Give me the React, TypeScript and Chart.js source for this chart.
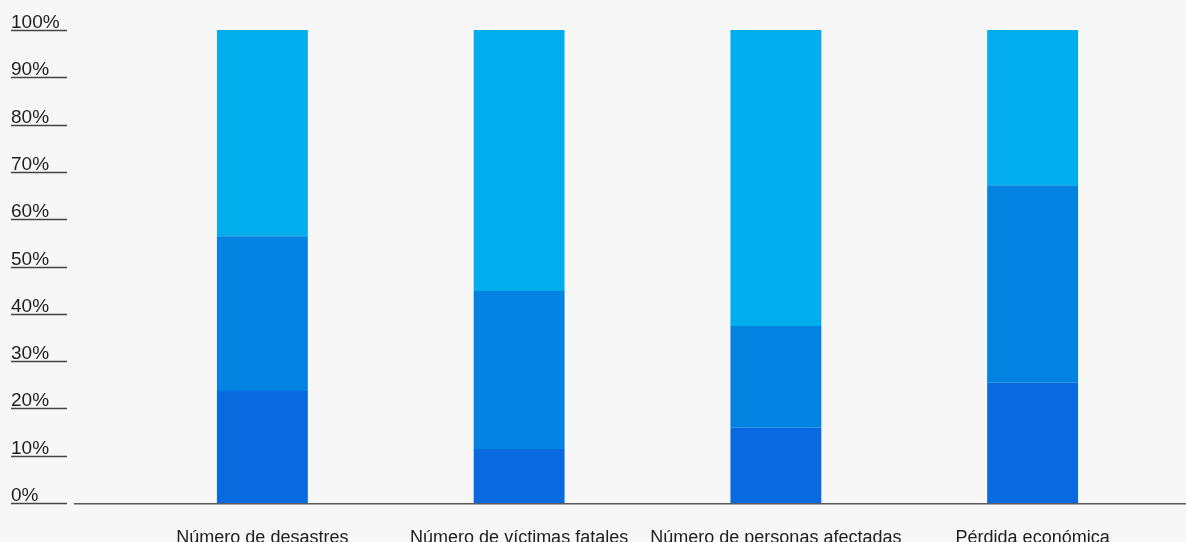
import React, { useEffect, useRef } from "react";
import { Chart, registerables } from "chart.js";

Chart.register(...registerables);

const categories = [
  "Número de desastres",
  "Número de víctimas fatales",
  "Número de personas afectadas",
  "Pérdida económica",
];
const seriesLow = [23.7, 11.4, 15.9, 25.4];
const seriesMid = [32.7, 33.4, 21.5, 41.8];
const seriesTop = [43.6, 55.2, 62.6, 32.8];
const yTickValues = [0, 10, 20, 30, 40, 50, 60, 70, 80, 90, 100];

const FONT = '"Liberation Sans", Arial, Helvetica, sans-serif';
const BG = "#f7f7f7";

const decorPlugin = {
  id: "decor",
  beforeDraw(chart: any) {
    const { ctx, width, height } = chart;
    ctx.save();
    ctx.fillStyle = BG;
    ctx.fillRect(0, 0, width, height);
    ctx.restore();
  },
  afterDraw(chart: any) {
    const { ctx, width, chartArea } = chart;
    const y = chart.scales.y;
    ctx.save();
    ctx.font = `19px ${FONT}`;
    ctx.fillStyle = "#1e1e1e";
    ctx.textAlign = "left";
    ctx.textBaseline = "alphabetic";
    ctx.strokeStyle = "#444444";
    ctx.lineWidth = 1.3;
    yTickValues.forEach((v) => {
      const py = Math.round(y.getPixelForValue(v));
      ctx.fillText(`${v}%`, 11, py - 2.5);
      ctx.beginPath();
      ctx.moveTo(11, py + 0.5);
      ctx.lineTo(67, py + 0.5);
      ctx.stroke();
    });
    ctx.strokeStyle = "#5a5a5a";
    ctx.lineWidth = 1.5;
    const by = Math.round(chartArea.bottom) + 0.75;
    ctx.beginPath();
    ctx.moveTo(74, by);
    ctx.lineTo(width, by);
    ctx.stroke();
    ctx.restore();
  },
};

export default function App() {
  const ref = useRef<HTMLCanvasElement | null>(null);

  useEffect(() => {
    document.body.style.margin = "0";
    document.body.style.background = BG;
    if (!ref.current) return;
    const chart = new Chart(ref.current, {
      type: "bar",
      data: {
        labels: categories,
        datasets: [
          { label: "Bajo", data: seriesLow, backgroundColor: "#0969df" },
          { label: "Medio", data: seriesMid, backgroundColor: "#0283e1" },
          { label: "Alto", data: seriesTop, backgroundColor: "#02adee" },
        ],
      },
      options: {
        animation: false,
        responsive: true,
        maintainAspectRatio: false,
        layout: { padding: { left: 134, right: 25, top: 30, bottom: 0 } },
        datasets: {
          bar: { categoryPercentage: 1, barPercentage: 0.354, borderWidth: 0 },
        },
        plugins: {
          legend: { display: false },
          tooltip: { enabled: false },
        },
        scales: {
          x: {
            stacked: true,
            grid: { display: false },
            border: { display: false },
            ticks: {
              font: { family: FONT, size: 18 },
              color: "#1e1e1e",
              padding: 16,
              maxRotation: 0,
              autoSkip: false,
            },
            afterFit(scale: any) {
              scale.height = 39;
            },
          },
          y: {
            display: false,
            stacked: true,
            min: 0,
            max: 100,
          },
        },
      },
      plugins: [decorPlugin],
    });
    return () => chart.destroy();
  }, []);

  return (
    <div style={{ width: 1186, height: 542, position: "relative" }}>
      <canvas ref={ref} />
    </div>
  );
}
